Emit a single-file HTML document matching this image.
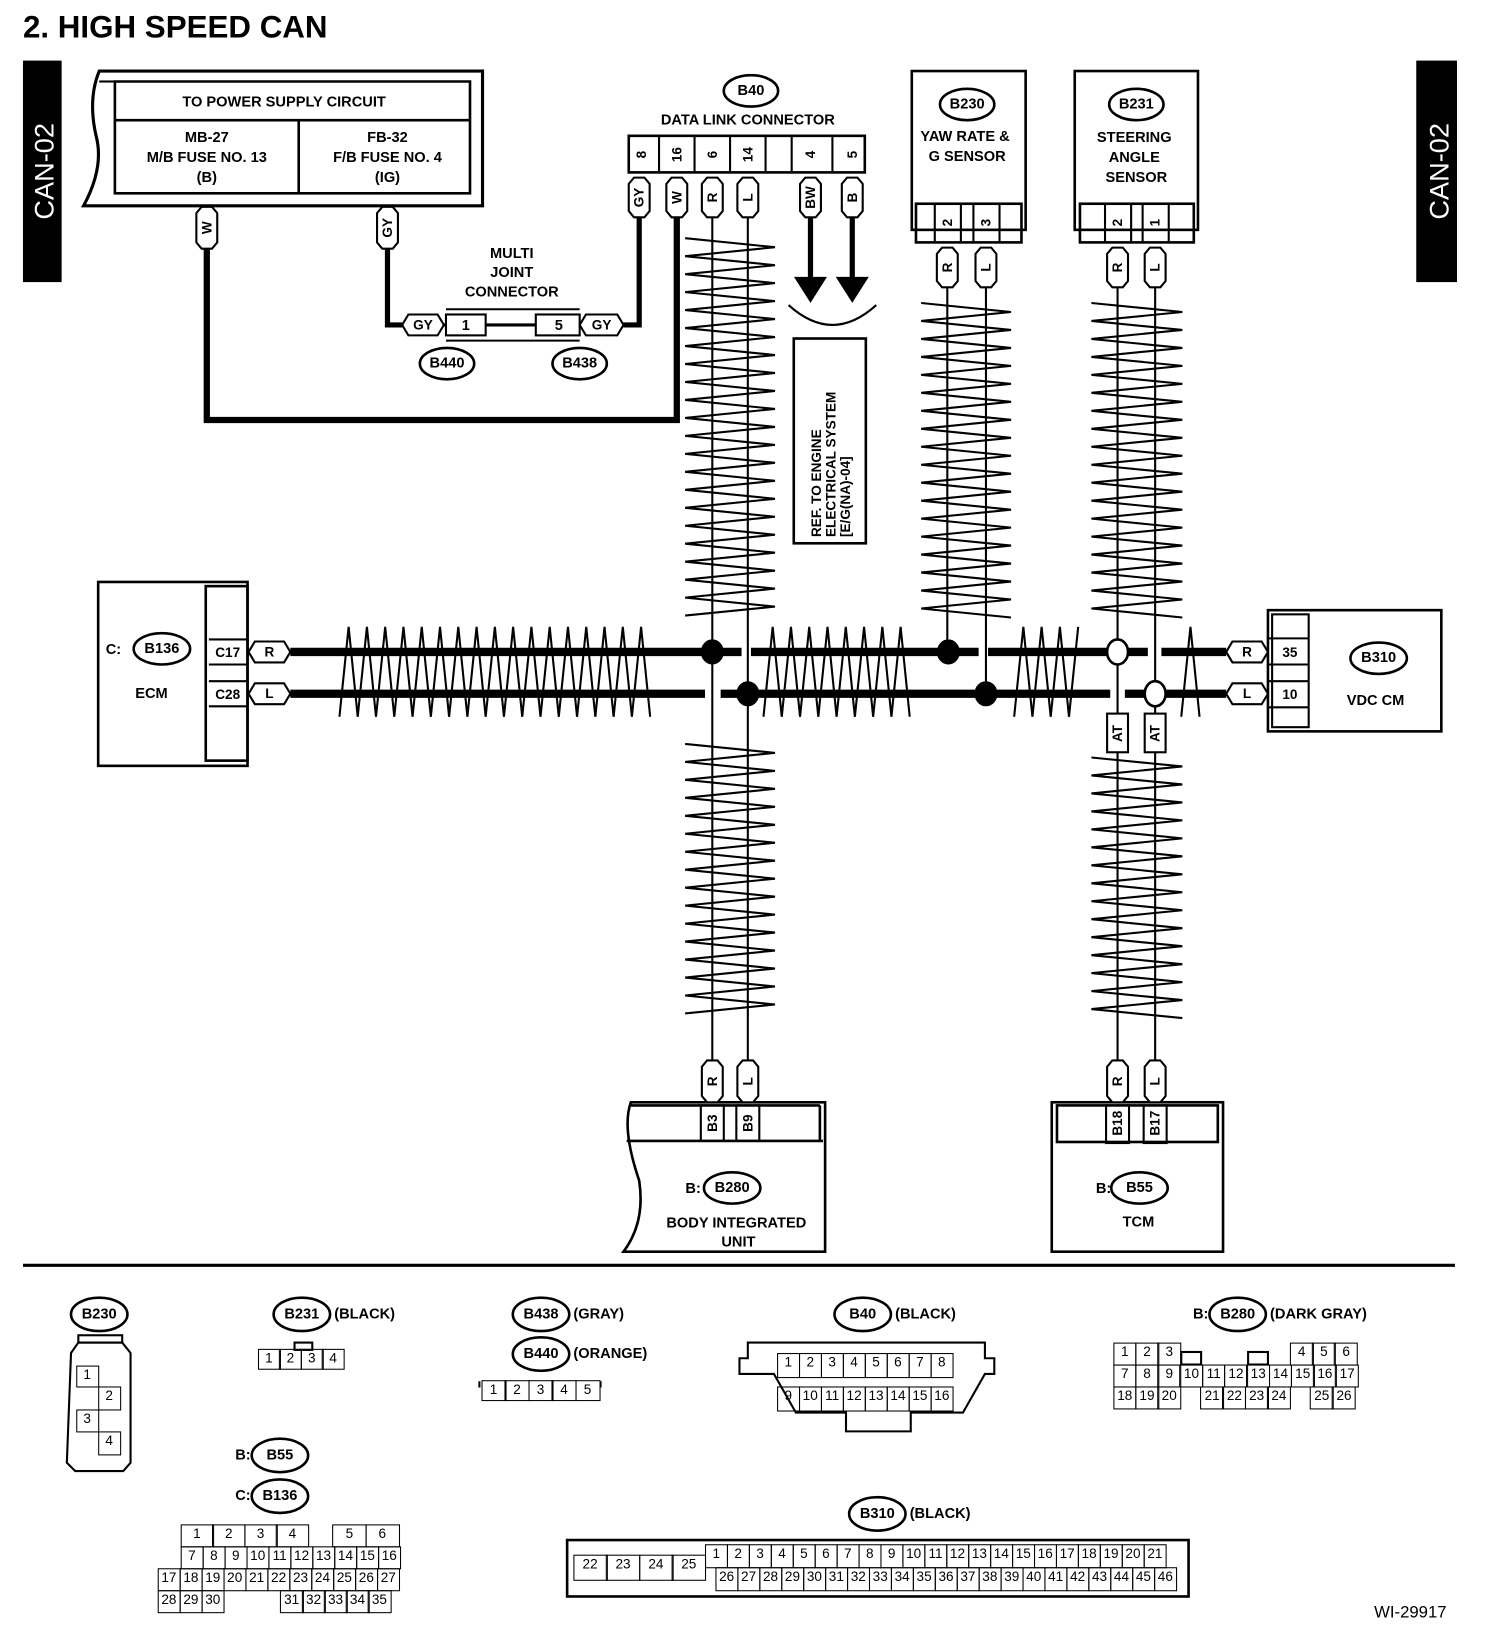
<!DOCTYPE html>
<html><head><meta charset="utf-8"><style>
html,body{margin:0;padding:0;background:#fff;}
body{width:1504px;height:1632px;overflow:hidden;position:relative;}
#w{position:absolute;left:0;top:0;width:1440px;height:1562px;transform:scale(1.04444,1.04481);transform-origin:0 0;}
svg{position:absolute;left:0;top:0;}
text{font-family:"Liberation Sans",sans-serif;font-weight:bold;fill:#000;}
.r{position:absolute;display:flex;}
.r span{display:block;box-sizing:border-box;border:1.5px solid #000;margin-left:-1.5px;margin-top:-1.5px;text-align:center;font:13px "Liberation Sans",sans-serif;height:calc(100% + 1.5px);}
.r span.e{border-color:transparent;}
</style></head><body><div id="w">
<svg id="s" width="1440" height="1562" viewBox="0 0 1440 1562" fill="none" stroke="#000" stroke-width="2">
<text x="22" y="36" font-size="30" stroke="none">2.  HIGH SPEED CAN</text>
<rect x="22" y="58" width="37" height="212" fill="#000" stroke="none"/>
<rect x="1356" y="58" width="39" height="212" fill="#000" stroke="none"/>
<text transform="translate(51,164) rotate(-90)" text-anchor="middle" font-size="26" style="fill:#fff;font-weight:normal" stroke="none">CAN-02</text>
<text transform="translate(1387,164) rotate(-90)" text-anchor="middle" font-size="26" style="fill:#fff;font-weight:normal" stroke="none">CAN-02</text>

<!-- power supply -->
<path d="M95,68 H462 V197 H80 Q100,160 92,130 Q84,95 95,68 Z" stroke-width="3"/>
<path d="M110,78 H450 V185 H110 Z M110,115 H450 M286,115 V185" stroke-width="2.5"/>
<path d="M95,78 H110" />
<g stroke="none" font-size="14" text-anchor="middle">
<text x="272" y="102">TO POWER SUPPLY CIRCUIT</text>
<text x="198" y="136">MB-27</text><text x="198" y="155">M/B FUSE NO. 13</text><text x="198" y="174">(B)</text>
<text x="371" y="136">FB-32</text><text x="371" y="155">F/B FUSE NO. 4</text><text x="371" y="174">(IG)</text>
<text x="490" y="247">MULTI</text><text x="490" y="265">JOINT</text><text x="490" y="284">CONNECTOR</text>
<text x="716" y="119">DATA LINK CONNECTOR</text>
<text x="924" y="135">YAW RATE &amp;</text><text x="926" y="154">G SENSOR</text>
<text x="1086" y="136">STEERING</text><text x="1086" y="155">ANGLE</text><text x="1088" y="174">SENSOR</text>
<text x="145" y="668">ECM</text>
<text x="1317" y="675">VDC CM</text>
<text x="705" y="1175">BODY INTEGRATED</text><text x="707" y="1193">UNIT</text>
<text x="1090" y="1174">TCM</text>
<text x="116" y="626" text-anchor="end">C:</text>
<text x="671" y="1142" text-anchor="end">B:</text>
<text x="1064" y="1142" text-anchor="end">B:</text>
</g>

<!-- wires thick -->
<path d="M198,237 V402 H648 V208" stroke-width="6"/>
<path d="M371,237 V311 H385 M597,311 H612 V208" stroke-width="5"/>
<path d="M425,311 H427 M465,311 H513 M555,311 H555" stroke-width="3"/>
<path d="M427,296 H555 M427,326 H555" stroke-width="2"/>
<rect x="427" y="301" width="38" height="20"/><rect x="513" y="301" width="42" height="20"/>
<g stroke="none" font-size="14" text-anchor="middle"><text x="446" y="316">1</text><text x="535" y="316">5</text></g>

<!-- B40 connector -->
<rect x="602" y="130" width="226" height="35" stroke-width="2.5"/>
<path d="M631,130V165M665,130V165M699,130V165M733,130V165M758,130V165M797,130V165"/>
<!-- arrows -->
<path d="M776,208 V268 M816,208 V268" stroke-width="5"/>
<path d="M762,266 H790 L776,288 Z M802,266 H830 L816,288 Z" fill="#000"/>
<path d="M755,292 Q797,330 839,292"/>
<rect x="760" y="324" width="69" height="196" stroke-width="2.5"/>
<g stroke="none" font-size="13">
<text transform="translate(786,514) rotate(-90)">REF. TO ENGINE</text>
<text transform="translate(800,514) rotate(-90)">ELECTRICAL SYSTEM</text>
<text transform="translate(814,514) rotate(-90)">[E/G(NA)-04]</text>
</g>

<!-- sensors -->
<rect x="873" y="68" width="109" height="152" stroke-width="2.5"/>
<rect x="877" y="195" width="101" height="37" stroke-width="2.5"/>
<path d="M895,195V232M920,195V232M932,195V232M957,195V232"/>
<rect x="1029" y="68" width="118" height="152" stroke-width="2.5"/>
<rect x="1034" y="195" width="109" height="37" stroke-width="2.5"/>
<path d="M1058,195V232M1083,195V232M1094,195V232M1119,195V232"/>

<!-- thin verticals -->
<path d="M682,208V1015M716,208V1015M907,275V624M944,275V664M1070,275V683M1106,275V683M1070,720V1015M1106,720V1015" stroke-width="2"/>

<!-- bus -->
<path d="M278,624H710M719,624H937M946,624H1099M1112,624H1174M278,664H675M690,664H1063M1077,664H1174" stroke-width="8"/>
<g fill="#000"><ellipse cx="682" cy="624" rx="10" ry="11"/><ellipse cx="716" cy="664" rx="10" ry="11"/><ellipse cx="908" cy="624" rx="10" ry="11"/><ellipse cx="944" cy="664" rx="10" ry="11"/></g>
<g fill="#fff" stroke-width="2.5"><ellipse cx="1070" cy="624" rx="10" ry="12"/><ellipse cx="1106" cy="664" rx="10" ry="12"/></g>
<g id="zz" stroke-width="2"></g>

<!-- ECM -->
<rect x="94" y="557" width="143" height="176" stroke-width="2.5"/>
<rect x="197" y="561" width="40" height="167" stroke-width="2.5"/>
<path d="M200,612H237M200,636H237M200,652H237M200,676H237"/>
<g stroke="none" font-size="13" text-anchor="middle"><text x="218" y="629">C17</text><text x="218" y="669">C28</text></g>
<!-- VDC -->
<rect x="1214" y="584" width="166" height="116" stroke-width="2.5"/>
<rect x="1218" y="588" width="35" height="108" stroke-width="2"/>
<path d="M1214,611H1253M1214,636H1253M1214,652H1253M1214,677H1253"/>
<g stroke="none" font-size="13" text-anchor="middle"><text x="1235" y="629">35</text><text x="1235" y="669">10</text></g>

<!-- bottom units -->
<path d="M604,1055 H790 V1198 H597 Q618,1170 612,1130 Q595,1080 604,1055 Z" stroke-width="2.5"/>
<path d="M600,1092 H788 M785,1058 V1092 M604,1058 H785" stroke-width="2.5"/>
<rect x="671" y="1058" width="22" height="34"/><rect x="705" y="1058" width="22" height="34"/>
<rect x="1007" y="1055" width="164" height="143" stroke-width="2.5"/>
<rect x="1012" y="1058" width="154" height="35" stroke-width="2.5"/>
<rect x="1059" y="1058" width="22" height="36"/><rect x="1095" y="1058" width="22" height="36"/>

<!-- tags drawn by script -->
<g id="tags" fill="#fff" stroke-width="2"></g>
<g stroke="none" font-size="13" text-anchor="middle" dominant-baseline="central">
<text transform="translate(198,218) rotate(-90)">W</text>
<text transform="translate(371,218) rotate(-90)">GY</text>
<text transform="translate(612,189) rotate(-90)">GY</text>
<text transform="translate(648,189) rotate(-90)">W</text>
<text transform="translate(682,189) rotate(-90)">R</text>
<text transform="translate(716,189) rotate(-90)">L</text>
<text transform="translate(776,189) rotate(-90)">BW</text>
<text transform="translate(816,189) rotate(-90)">B</text>
<text transform="translate(614,148) rotate(-90)">8</text>
<text transform="translate(648,148) rotate(-90)">16</text>
<text transform="translate(682,148) rotate(-90)">6</text>
<text transform="translate(716,148) rotate(-90)">14</text>
<text transform="translate(776,148) rotate(-90)">4</text>
<text transform="translate(816,148) rotate(-90)">5</text>
<text transform="translate(907,213) rotate(-90)">2</text>
<text transform="translate(944,213) rotate(-90)">3</text>
<text transform="translate(1070,213) rotate(-90)">2</text>
<text transform="translate(1106,213) rotate(-90)">1</text>
<text transform="translate(907,256) rotate(-90)">R</text>
<text transform="translate(944,256) rotate(-90)">L</text>
<text transform="translate(1070,256) rotate(-90)">R</text>
<text transform="translate(1106,256) rotate(-90)">L</text>
<text transform="translate(1070,702) rotate(-90)">AT</text>
<text transform="translate(1106,702) rotate(-90)">AT</text>
<text transform="translate(682,1035) rotate(-90)">R</text>
<text transform="translate(716,1035) rotate(-90)">L</text>
<text transform="translate(1070,1035) rotate(-90)">R</text>
<text transform="translate(1106,1035) rotate(-90)">L</text>
<text transform="translate(682,1075) rotate(-90)">B3</text>
<text transform="translate(716,1075) rotate(-90)">B9</text>
<text transform="translate(1070,1075) rotate(-90)">B18</text>
<text transform="translate(1106,1075) rotate(-90)">B17</text>
<text x="405" y="311">GY</text><text x="576" y="311">GY</text>
<text x="258" y="624">R</text><text x="258" y="664">L</text>
<text x="1194" y="624">R</text><text x="1194" y="664">L</text>
</g>

<!-- circles -->
<g fill="#fff" stroke-width="2.5">
<ellipse cx="719" cy="87" rx="26" ry="15"/><ellipse cx="926" cy="100" rx="26" ry="15"/><ellipse cx="1088" cy="100" rx="26" ry="15"/>
<ellipse cx="428" cy="348" rx="26" ry="15"/><ellipse cx="555" cy="348" rx="26" ry="15"/>
<ellipse cx="155" cy="621" rx="27" ry="15"/><ellipse cx="1320" cy="630" rx="27" ry="15"/>
<ellipse cx="701" cy="1137" rx="27" ry="15"/><ellipse cx="1091" cy="1137" rx="27" ry="15"/>
<ellipse cx="95" cy="1258" rx="27" ry="16"/><ellipse cx="289" cy="1258" rx="27" ry="16"/><ellipse cx="518" cy="1258" rx="27" ry="16"/>
<ellipse cx="518" cy="1296" rx="27" ry="16"/><ellipse cx="826" cy="1258" rx="27" ry="16"/><ellipse cx="1185" cy="1258" rx="27" ry="16"/>
<ellipse cx="268" cy="1393" rx="27" ry="16"/><ellipse cx="268" cy="1432" rx="27" ry="16"/><ellipse cx="840" cy="1449" rx="27" ry="16"/>
</g>
<g stroke="none" font-size="14" text-anchor="middle" dominant-baseline="central">
<text x="719" y="87">B40</text><text x="926" y="100">B230</text><text x="1088" y="100">B231</text>
<text x="428" y="348">B440</text><text x="555" y="348">B438</text>
<text x="155" y="621">B136</text><text x="1320" y="630">B310</text>
<text x="701" y="1137">B280</text><text x="1091" y="1137">B55</text>
<text x="95" y="1258">B230</text><text x="289" y="1258">B231</text><text x="518" y="1258">B438</text>
<text x="518" y="1296">B440</text><text x="826" y="1258">B40</text><text x="1185" y="1258">B280</text>
<text x="268" y="1393">B55</text><text x="268" y="1432">B136</text><text x="840" y="1449">B310</text>
</g>
<g stroke="none" font-size="14" dominant-baseline="central">
<text x="320" y="1258">(BLACK)</text><text x="549" y="1258">(GRAY)</text><text x="549" y="1296">(ORANGE)</text>
<text x="857" y="1258">(BLACK)</text><text x="1216" y="1258">(DARK GRAY)</text><text x="871" y="1449">(BLACK)</text>
<text x="1157" y="1258" text-anchor="end">B:</text><text x="240" y="1393" text-anchor="end">B:</text><text x="240" y="1432" text-anchor="end">C:</text>
</g>
<text x="1385" y="1548" font-size="16" stroke="none" style="font-weight:normal" text-anchor="end">WI-29917</text>

<!-- separator -->
<path d="M22,1211H1393" stroke-width="3"/>

<!-- connector outlines -->
<path d="M68,1295 L75,1285 H117 L125,1295 V1400 L118,1408 H72 L64,1400 Z" stroke-width="2"/>
<rect x="75" y="1278" width="42" height="7"/>
<rect x="282" y="1285" width="17" height="7"/>
<path d="M459,1322V1328M575,1322V1328"/>
<path d="M716,1285 H943 V1300 H952 V1315 H943 L922,1352 H872 V1370 H810 V1352 H762 L741,1315 H708 V1300 H716 Z" stroke-width="2"/>
<rect x="1131" y="1294" width="19" height="12"/><rect x="1195" y="1294" width="19" height="12"/>
<rect x="543" y="1474" width="595" height="54" stroke-width="2.5"/>
</svg>

<!-- grids -->
<div class="r" style="left:74px;top:1308px;height:20px"><span style="width:22px">1</span></div>
<div class="r" style="left:95px;top:1328px;height:22px"><span style="width:22px">2</span></div>
<div class="r" style="left:74px;top:1350px;height:21px"><span style="width:22px">3</span></div>
<div class="r" style="left:95px;top:1371px;height:22px"><span style="width:22px">4</span></div>

<div class="r" style="left:248px;top:1292px;height:19px"><span style="width:22px">1</span><span style="width:22px">2</span><span style="width:22px">3</span><span style="width:22px">4</span></div>

<div class="r" style="left:462px;top:1322px;height:19px"><span style="width:24px">1</span><span style="width:24px">2</span><span style="width:24px">3</span><span style="width:24px">4</span><span style="width:24px">5</span></div>

<div class="r" style="left:745px;top:1296px;height:23px"><span style="width:22.5px">1</span><span style="width:22.5px">2</span><span style="width:22.5px">3</span><span style="width:22.5px">4</span><span style="width:22.5px">5</span><span style="width:22.5px">6</span><span style="width:22.5px">7</span><span style="width:22.5px">8</span></div>
<div class="r" style="left:745px;top:1328px;height:23px"><span style="width:22.5px">9</span><span style="width:22.5px">10</span><span style="width:22.5px">11</span><span style="width:22.5px">12</span><span style="width:22.5px">13</span><span style="width:22.5px">14</span><span style="width:22.5px">15</span><span style="width:22.5px">16</span></div>

<div class="r" style="left:1067px;top:1286px;height:21px"><span style="width:22.8px">1</span><span style="width:22.8px">2</span><span style="width:22.8px">3</span><span class="e" style="width:107px"></span><span style="width:22.8px">4</span><span style="width:22.8px">5</span><span style="width:22.8px">6</span></div>
<div class="r" style="left:1067px;top:1307px;height:21px"><span style="width:22.8px">7</span><span style="width:22.8px">8</span><span style="width:22.8px">9</span><span style="width:22.8px">10</span><span style="width:22.8px">11</span><span style="width:22.8px">12</span><span style="width:22.8px">13</span><span style="width:22.8px">14</span><span style="width:22.8px">15</span><span style="width:22.8px">16</span><span style="width:22.8px">17</span></div>
<div class="r" style="left:1067px;top:1328px;height:21px"><span style="width:22.8px">18</span><span style="width:22.8px">19</span><span style="width:22.8px">20</span><span class="e" style="width:21.3px"></span><span style="width:22.8px">21</span><span style="width:22.8px">22</span><span style="width:22.8px">23</span><span style="width:22.8px">24</span><span class="e" style="width:21.3px"></span><span style="width:22.8px">25</span><span style="width:22.8px">26</span></div>

<div class="r" style="left:174px;top:1460px;height:21px"><span style="width:32px">1</span><span style="width:32px">2</span><span style="width:32px">3</span><span style="width:32px">4</span><span class="e" style="width:25px"></span><span style="width:33px">5</span><span style="width:33px">6</span></div>
<div class="r" style="left:174px;top:1481px;height:21px"><span style="width:22.5px">7</span><span style="width:22.5px">8</span><span style="width:22.5px">9</span><span style="width:22.5px">10</span><span style="width:22.5px">11</span><span style="width:22.5px">12</span><span style="width:22.5px">13</span><span style="width:22.5px">14</span><span style="width:22.5px">15</span><span style="width:22.5px">16</span></div>
<div class="r" style="left:152px;top:1502px;height:21px"><span style="width:22.5px">17</span><span style="width:22.5px">18</span><span style="width:22.5px">19</span><span style="width:22.5px">20</span><span style="width:22.5px">21</span><span style="width:22.5px">22</span><span style="width:22.5px">23</span><span style="width:22.5px">24</span><span style="width:22.5px">25</span><span style="width:22.5px">26</span><span style="width:22.5px">27</span></div>
<div class="r" style="left:152px;top:1523px;height:21px"><span style="width:22.5px">28</span><span style="width:22.5px">29</span><span style="width:22.5px">30</span><span class="e" style="width:56px"></span><span style="width:22.5px">31</span><span style="width:22.5px">32</span><span style="width:22.5px">33</span><span style="width:22.5px">34</span><span style="width:22.5px">35</span></div>

<div class="r" style="left:550px;top:1489px;height:24px"><span style="width:33px">22</span><span style="width:33px">23</span><span style="width:33px">24</span><span style="width:33px">25</span></div>
<div class="r" style="left:676px;top:1479px;height:22px"><span style="width:22.5px">1</span><span style="width:22.5px">2</span><span style="width:22.5px">3</span><span style="width:22.5px">4</span><span style="width:22.5px">5</span><span style="width:22.5px">6</span><span style="width:22.5px">7</span><span style="width:22.5px">8</span><span style="width:22.5px">9</span><span style="width:22.5px">10</span><span style="width:22.5px">11</span><span style="width:22.5px">12</span><span style="width:22.5px">13</span><span style="width:22.5px">14</span><span style="width:22.5px">15</span><span style="width:22.5px">16</span><span style="width:22.5px">17</span><span style="width:22.5px">18</span><span style="width:22.5px">19</span><span style="width:22.5px">20</span><span style="width:22.5px">21</span></div>
<div class="r" style="left:686px;top:1501px;height:22px"><span style="width:22.5px">26</span><span style="width:22.5px">27</span><span style="width:22.5px">28</span><span style="width:22.5px">29</span><span style="width:22.5px">30</span><span style="width:22.5px">31</span><span style="width:22.5px">32</span><span style="width:22.5px">33</span><span style="width:22.5px">34</span><span style="width:22.5px">35</span><span style="width:22.5px">36</span><span style="width:22.5px">37</span><span style="width:22.5px">38</span><span style="width:22.5px">39</span><span style="width:22.5px">40</span><span style="width:22.5px">41</span><span style="width:22.5px">42</span><span style="width:22.5px">43</span><span style="width:22.5px">44</span><span style="width:22.5px">45</span><span style="width:22.5px">46</span></div>
</div>
<script>
var NS="http://www.w3.org/2000/svg";
function el(p,n,a){var e=document.createElementNS(NS,n);for(var k in a)e.setAttribute(k,a[k]);p.appendChild(e);return e;}
var zz=document.getElementById('zz'),tg=document.getElementById('tags');
function vz(x1,x2,y1,y2,p){var d="M"+x1+","+y1,l=false;for(var y=y1+p/2;y<=y2;y+=p/2){d+=" L"+(l?x1:x2)+","+y.toFixed(1);l=!l;}el(zz,'path',{d:d});}
function hz(x1,x2,y1,y2,p){var d="M"+x1+","+y2,t=true;for(var x=x1+p/2;x<=x2;x+=p/2){d+=" L"+x.toFixed(1)+","+(t?y1:y2);t=!t;}el(zz,'path',{d:d});}
vz(656,742,228,592,17.2);vz(656,742,712,972,17.2);
vz(882,968,290,592,17.2);vz(1045,1132,290,592,17.2);vz(1045,1132,725,978,17.2);
hz(325,623,600,686,17.5);hz(731,879,600,686,17.5);hz(971,1035,600,686,17.5);hz(1131,1157,600,686,17.5);
function vt(x,y1,y2){el(tg,'path',{d:"M"+(x-10)+","+(y1+6)+" L"+(x-5)+","+y1+" H"+(x+5)+" L"+(x+10)+","+(y1+6)+" V"+(y2-6)+" L"+(x+5)+","+y2+" H"+(x-5)+" L"+(x-10)+","+(y2-6)+" Z"});}
function ht(x1,x2,y){el(tg,'path',{d:"M"+x1+","+y+" L"+(x1+6)+","+(y-10)+" H"+(x2-6)+" L"+x2+","+y+" L"+(x2-6)+","+(y+10)+" H"+(x1+6)+" Z"});}
vt(198,198,238);vt(371,198,238);
[612,648,682,716,776,816].forEach(function(x){vt(x,170,208);});
[907,944,1070,1106].forEach(function(x){vt(x,237,275);});
[682,716,1070,1106].forEach(function(x){vt(x,1015,1055);});
el(tg,'rect',{x:1060,y:683,width:20,height:37});el(tg,'rect',{x:1096,y:683,width:20,height:37});
ht(385,425,311);ht(555,597,311);ht(238,278,624);ht(238,278,664);ht(1174,1214,624);ht(1174,1214,664);
</script>
</body></html>
